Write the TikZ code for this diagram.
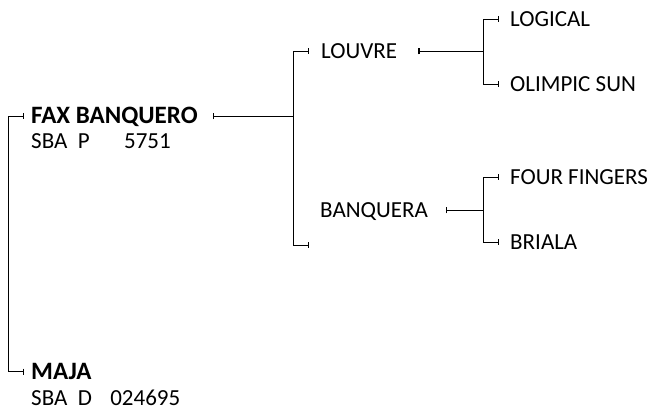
\documentclass[tikz,border=0pt]{standalone}
\usepackage{fontspec}
\setmainfont{Carlito}
\usetikzlibrary{arrows.meta,positioning,calc}

\begin{document}
\begin{tikzpicture}[x=1pt, y=-1pt,
    entry/.style={anchor=base west, inner sep=0pt, font=\fontsize{23}{25}\selectfont, text height=15pt, text depth=0pt},
    horse/.style={entry, font=\fontsize{25}{27}\selectfont\bfseries},
    link/.style={line width=1.5pt, black, line cap=rect},
    tipr/.style={link, -{Bar[width=6pt, line width=1.3pt]}},
    tipl/.style={link, {Bar[width=6pt, line width=1.3pt]}-},
    tipb/.style={link, {Bar[width=6pt, line width=1.3pt]}-{Bar[width=6pt, line width=1.3pt]}}]
    \useasboundingbox (0,0) rectangle (656,414);

    % Horses
    \node[horse] (fab) at (31,124) {FAX BANQUERO};
    \node[entry] (fabid) at (31,149) {SBA\ \ P\hspace{1.5em}5751};
    \node[horse] (maja) at (31,379) {MAJA};
    \node[entry] (majaid) at (31,405) {SBA\ \ D\hspace{0.8em}024695};

    % Sire line
    \node[entry] (louvre) at (321,59) {LOUVRE};
    \node[entry] (logical) at (510,27) {LOGICAL};
    \node[entry] (olimpic) at (510,92) {OLIMPIC SUN};

    % Dam line
    \node[entry] (banquera) at (320,218) {BANQUERA};
    \node[entry] (four) at (510,185) {FOUR FINGERS};
    \node[entry] (briala) at (510,250) {BRIALA};

    % Forks
    \coordinate (root) at (8.5,240);
    \coordinate (j1) at (293.5,116.5);
    \coordinate (j2) at (483.5,51.5);
    \coordinate (j3) at (483.5,210.5);
    \coordinate (blank) at (309,245.5);

    % Brackets
    \draw[tipb, shorten <=7pt, shorten >=7pt] (fab.west) -| (root) |- (maja.west);
    \draw[tipl, shorten <=15pt] (fab.east) -- (j1);
    \draw[tipr, shorten >=12pt] (j1) |- (louvre.west);
    \draw[tipr] (j1) |- (blank);
    \draw[tipl, shorten <=21pt] (louvre.east) -- (j2);
    \draw[tipb, shorten <=11pt, shorten >=11pt] (logical.west) -| (j2) |- (olimpic.west);
    \draw[tipl, shorten <=18pt] (banquera.east) -- (j3);
    \draw[tipb, shorten <=11pt, shorten >=11pt] (four.west) -| (j3) |- (briala.west);
\end{tikzpicture}
\end{document}
